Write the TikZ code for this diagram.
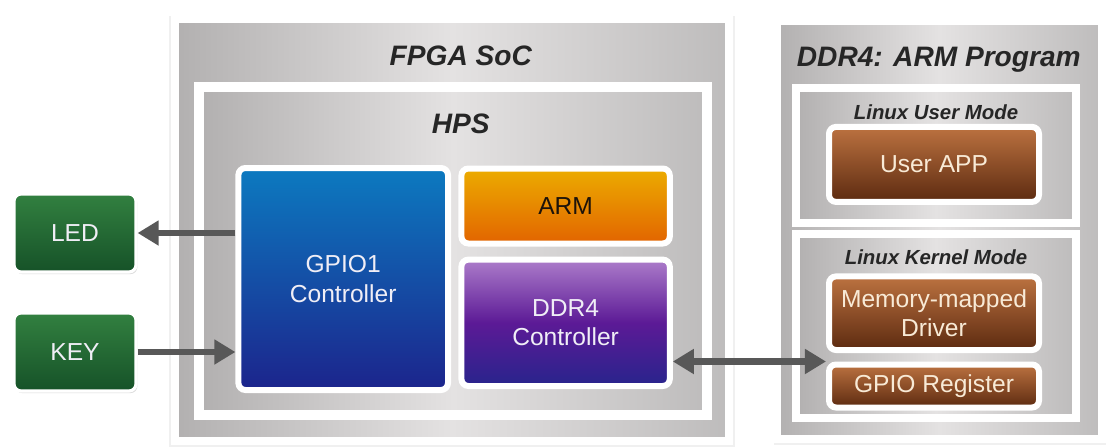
\documentclass[tikz,border=0pt]{standalone}
\usepackage{fontspec}
\setmainfont{Liberation Sans}
\usepackage{xcolor}
\usetikzlibrary{arrows.meta, shadows}

\definecolor{panelgray}{RGB}{178,176,176}
\definecolor{panellight}{RGB}{228,226,226}
\definecolor{arrgray}{RGB}{88,88,88}
\definecolor{ledtop}{RGB}{50,128,64}
\definecolor{ledbot}{RGB}{22,82,40}
\definecolor{gpiotop}{RGB}{12,122,192}
\definecolor{gpiobot}{RGB}{28,36,140}
\definecolor{armtop}{RGB}{236,172,0}
\definecolor{armbot}{RGB}{226,100,0}
\definecolor{ddrtop}{RGB}{172,124,202}
\definecolor{ddrmid}{RGB}{92,26,150}
\definecolor{ddrbot}{RGB}{40,36,140}
\definecolor{swtop}{RGB}{188,114,64}
\definecolor{swbot}{RGB}{92,42,16}
\definecolor{lighttext}{RGB}{240,238,246}
\definecolor{creamtext}{RGB}{248,234,214}

\begin{document}
\begin{tikzpicture}[
    panel/.style={draw=white, line width=0.2cm, left color=panelgray, right color=panelgray!85, middle color=panellight, inner sep=0pt},
    outer/.style={panel, drop shadow={shadow xshift=0pt, shadow yshift=-1pt, shadow scale=1.022, opacity=0.12}},
    title/.style={font=\fontsize{20}{24}\selectfont\bfseries\itshape, text=black!85},
    subtitle/.style={font=\fontsize{14.5}{17}\selectfont\bfseries\itshape, text=black!85},
    blk/.style={draw=white, line width=0.15cm, rounded corners=5pt, align=center, inner sep=0pt,
        font=\fontsize{17.5}{21}\selectfont, text=lighttext,
        drop shadow={shadow xshift=1pt, shadow yshift=-1.5pt, opacity=0.3}},
    io/.style={blk, line width=0.08cm, top color=ledtop, bottom color=ledbot, minimum width=3.05cm, minimum height=1.95cm},
    sw/.style={blk, top color=swtop, bottom color=swbot, text=creamtext, minimum width=5.25cm},
    arr/.style={-{Triangle[length=15pt, width=17pt]}, line width=4.5pt, draw=arrgray},
    dblarr/.style={{Triangle[length=15pt, width=17pt]}-{Triangle[length=15pt, width=17pt]}, line width=4.5pt, draw=arrgray},
]
\useasboundingbox (0,0) rectangle (27.675,-11.2);

% --- FPGA SoC / HPS ---
\node[outer, minimum width=13.85cm, minimum height=10.55cm] (soc) at (11.30, -5.75) {};
\node[title] (soctitle) at (11.52, -1.4) {FPGA SoC};
\node[panel, line width=0.25cm, minimum width=12.69cm, minimum height=8.19cm] (hps) at (11.33, -6.28) {};
\node[title] (hpstitle) at (11.52, -3.1) {HPS};

\node[blk, top color=gpiotop, bottom color=gpiobot, minimum width=5.24cm, minimum height=5.55cm] (gpio) at (8.58, -6.975) {GPIO1 \\ Controller};
\node[blk, top color=armtop, bottom color=armbot, text=black!85!brown, minimum width=5.21cm, minimum height=1.875cm] (arm) at (14.14, -5.15) {ARM};
\node[blk, top color=ddrtop, bottom color=ddrbot, middle color=ddrmid, minimum width=5.21cm, minimum height=3.16cm] (ddr) at (14.14, -8.07) {DDR4 \\ Controller};

% --- LED / KEY ---
\node[io] (led) at (1.875, -5.825) {LED};
\node[io] (key) at (1.875, -8.8) {KEY};

% --- DDR4: programme ARM ---
\node[outer, minimum width=8.125cm, minimum height=10.45cm] (prog) at (23.49, -5.75) {};
\node[title] (progtitle) at (23.47, -1.5) {DDR4: ARM Program};
\node[panel, minimum width=7.0cm, minimum height=3.375cm] (user) at (23.4, -3.875) {};
\node[subtitle] (usertitle) at (23.4, -2.8) {Linux User Mode};
\node[sw, minimum height=1.875cm] (app) at (23.35, -4.11) {User APP};
\node[panel, minimum width=7.0cm, minimum height=4.6cm] (kernel) at (23.4, -8.16) {};
\node[subtitle] (kerneltitle) at (23.4, -6.42) {Linux Kernel Mode};
\node[sw, minimum height=1.84cm] (drv) at (23.35, -7.83) {Memory-mapped \\ Driver};
\node[sw, minimum height=1.075cm] (reg) at (23.35, -9.65) {GPIO Register};

% --- Liaisons ---
\draw[arr] (gpio.west |- led) -- (led.east);
\draw[arr] (key.east) -- (gpio.west |- key);
\draw[dblarr] (ddr.east |- reg.north west) -- (reg.north west);

\end{tikzpicture}
\end{document}
